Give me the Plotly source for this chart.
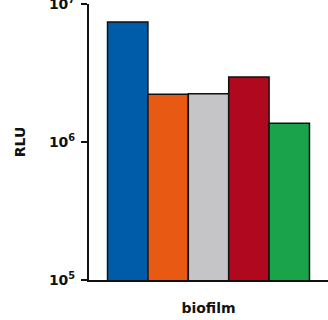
import plotly.graph_objects as go

categories = ["biofilm"]
series_names = ["s1", "s2", "s3", "s4", "s5"]
series_values = [[7.4e6], [2.22e6], [2.24e6], [2.96e6], [1.37e6]]
colors = ["#005BA8", "#E85A14", "#C5C5C7", "#B0081E", "#1AA34A"]
tick_vals = [1e5, 1e6, 1e7]
tick_text = ["<b>10<sup>5</sup></b>", "<b>10<sup>6</sup></b>", "<b>10<sup>7</sup></b>"]

fig = go.Figure()
for name, vals, c in zip(series_names, series_values, colors):
    fig.add_trace(go.Bar(x=categories, y=vals, name=name, marker=dict(color=c, line=dict(color="#111111", width=1.5))))

font = dict(family="DejaVu Sans", size=14, color="#111111")
fig.update_layout(
    width=328, height=320,
    margin=dict(l=89, r=0, t=4, b=40),
    barmode="group", bargap=0.155, bargroupgap=0,
    showlegend=False,
    plot_bgcolor="white", paper_bgcolor="white",
    font=font,
)
fig.update_yaxes(type="log", range=[4.9999, 7.0001], tickvals=tick_vals, ticktext=tick_text, automargin=False,
                 showline=True, linecolor="#111111", linewidth=2, ticks="outside",
                 ticklen=6, tickwidth=2, tickcolor="#111111", showgrid=False, zeroline=False,
                 ticklabeloverflow="allow", ticklabelstandoff=3,
                 tickfont=dict(family="DejaVu Sans", size=14, color="#111111"),
                 title=dict(text="<b>RLU</b>", font=dict(family="DejaVu Sans", size=14), standoff=20))
fig.update_xaxes(showline=True, linecolor="#111111", linewidth=2, ticks="", showgrid=False, automargin=False,
                 tickfont=dict(family="DejaVu Sans", size=14), ticktext=["<b>biofilm</b>"], tickvals=categories,
                 ticklabelstandoff=14)
fig.write_html("out.html", config={"displayModeBar": False},
               post_script="document.body.style.margin='0';document.body.style.padding='0';")
